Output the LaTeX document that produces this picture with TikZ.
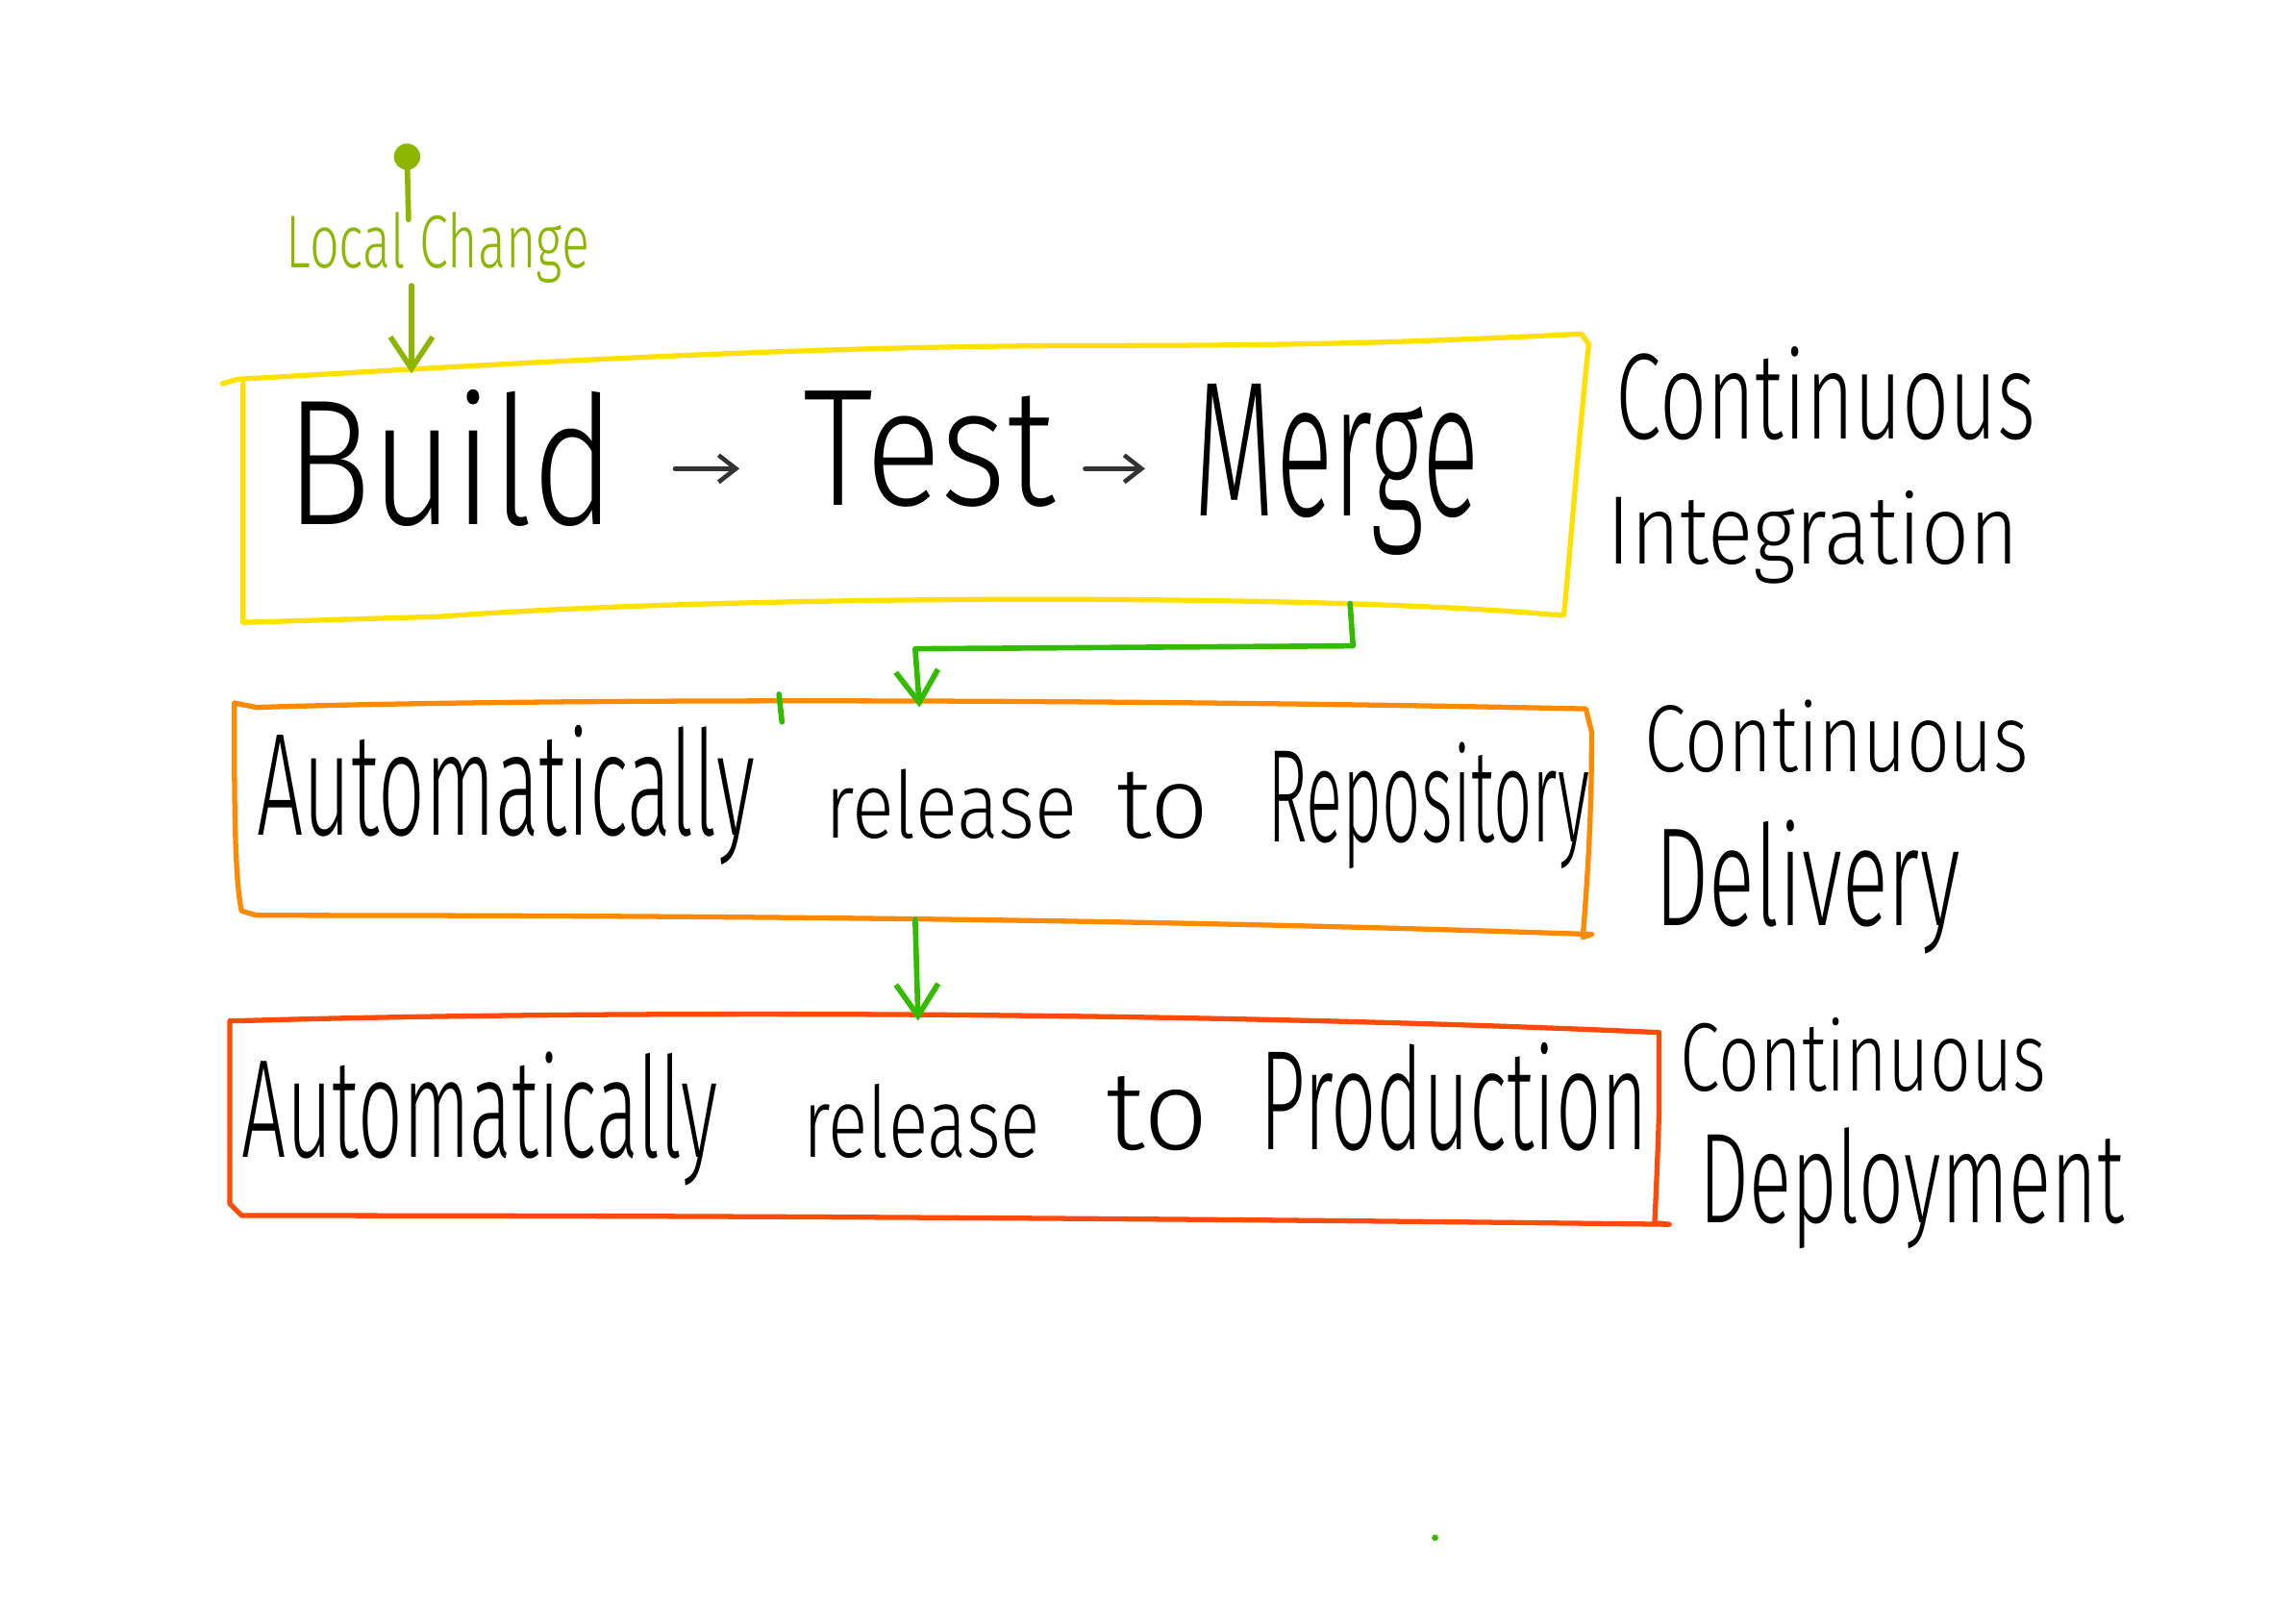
\documentclass[tikz,border=0pt]{standalone}
\usepackage{fontspec}
\usepackage{graphicx}
\usetikzlibrary{arrows.meta}
\IfFontExistsTF{Fira Sans Light}{\newfontfamily\hand{Fira Sans Light}}{\newfontfamily\hand{Liberation Sans}}
\newlength\px \setlength\px{0.1523mm}
\newcommand\hw[3]{\resizebox{#1\px}{#2\px}{\hand #3}}
\definecolor{cyellow}{HTML}{FFE100}
\definecolor{corange}{HTML}{FF8A00}
\definecolor{cred}{HTML}{FF4A0A}
\definecolor{cgreen}{HTML}{33BB00}
\definecolor{colive}{HTML}{8DB600}
\tikzset{
  word/.style={inner sep=0pt, anchor=base west},
  box/.style={line width=1.5pt, line join=round, line cap=round},
  flow/.style={line width=1.6pt, line cap=round, line join=round},
  vtip/.style={-{Straight Barb[length=3.3mm,width=4.4mm,line width=1.6pt]}},
  small/.style={-{Straight Barb[length=1.8mm,width=2.8mm,line width=1.3pt]}, line width=1.3pt, line cap=round},
}
\begin{document}
\begin{tikzpicture}[x=0.1523mm,y=-0.1523mm]
\useasboundingbox[fill=white] (0,0) rectangle (1568,1095);

% boxes
\draw[box, draw=cyellow] (152,262) -- (162,259) .. controls (350,248) and (550,236) .. (750,236)
  .. controls (900,236) and (980,233) .. (1080,228) -- (1085,235)
  .. controls (1078,300) and (1072,380) .. (1068,420) -- (1064,420)
  .. controls (900,405) and (500,406) .. (300,421) -- (166,425) -- (166,262);
\draw[box, draw=corange] (160,480) -- (175,483) .. controls (400,476) and (800,478) .. (1083,484)
  -- (1087,500) .. controls (1087,560) and (1084,600) .. (1081,640) -- (1087,638)
  .. controls (800,628) and (500,625) .. (175,625) -- (165,622) .. controls (160,600) and (160,540) .. (160,480);
\draw[box, draw=cred] (157,697) -- (165,697) .. controls (400,690) and (800,690) .. (1133,705)
  -- (1133,760) .. controls (1132,790) and (1131,815) .. (1130,835) -- (1140,836)
  .. controls (800,832) and (500,830) .. (165,830) -- (157,822) -- (157,697);

% local change
\coordinate (dot) at (278,107);
\fill[colive] (dot) circle[radius=9];
\draw[colive, flow] (dot) -- (279,150);
\node[word] (local) at (195,183) {\color{colive}\hw{207}{38}{Local Change}};
\coordinate (lcA) at (281,195);
\coordinate (lcB) at (281,255);
\draw[colive, flow, vtip] (lcA) -- (lcB);

% row 1
\node[word] (build) at (195,358) {\hw{225}{92}{Build}};
\node[word] (test) at (548,345) {\hw{172}{78}{Test}};
\node[word] (merge) at (815,352) {\hw{195}{90}{Merge}};
\draw[small, black!80, shorten <=40\px, shorten >=43\px] (build.east |- 0,320) -- (test.west |- 0,320);
\draw[small, black!80, shorten <=20\px, shorten >=33\px] (test.east |- 0,320) -- (merge.west |- 0,320);

% row 2
\node[word] (auto1) at (175,570) {\hw{340}{75}{Automatically}};
\node[word] (rel1) at (563,572) {\hw{172}{47}{release}};
\node[word] (to1) at (762,572) {\hw{63}{45}{to}};
\node[word] (repo) at (865,575) {\hw{220}{68}{Repository}};

% row 3
\node[word] (auto2) at (165,790) {\hw{325}{72}{Automatically}};
\node[word] (rel2) at (548,790) {\hw{162}{50}{release}};
\node[word] (to2) at (755,785) {\hw{70}{50}{to}};
\node[word] (prod) at (860,785) {\hw{265}{73}{Production}};

% right labels
\node[word] (ci1) at (1103,300) {\hw{287}{63}{Continuous}};
\node[word] (ci2) at (1097,385) {\hw{281}{50}{Integration}};
\node[word] (cd1) at (1123,527) {\hw{262}{49}{Continuous}};
\node[word] (cd2) at (1130,632) {\hw{208}{72}{Delivery}};
\node[word] (cp1) at (1147,745) {\hw{250}{50}{Continuous}};
\node[word] (cp2) at (1160,835) {\hw{290}{65}{Deployment}};

% green connectors
\coordinate (m1) at (922,412);
\coordinate (m2) at (924,441);
\coordinate (m3) at (625,443);
\coordinate (m4) at (628,483);
\draw[cgreen, flow, vtip] (m1) -- (m2) -- (m3) -- (m4);
\draw[cgreen, flow] (532,474) -- (534,493);
\coordinate (r1) at (625,628);
\coordinate (r2) at (627,697);
\draw[cgreen, flow, vtip] (r1) -- (r2);
\fill[cgreen] (980,1050) circle[radius=2.2];
\end{tikzpicture}
\end{document}
